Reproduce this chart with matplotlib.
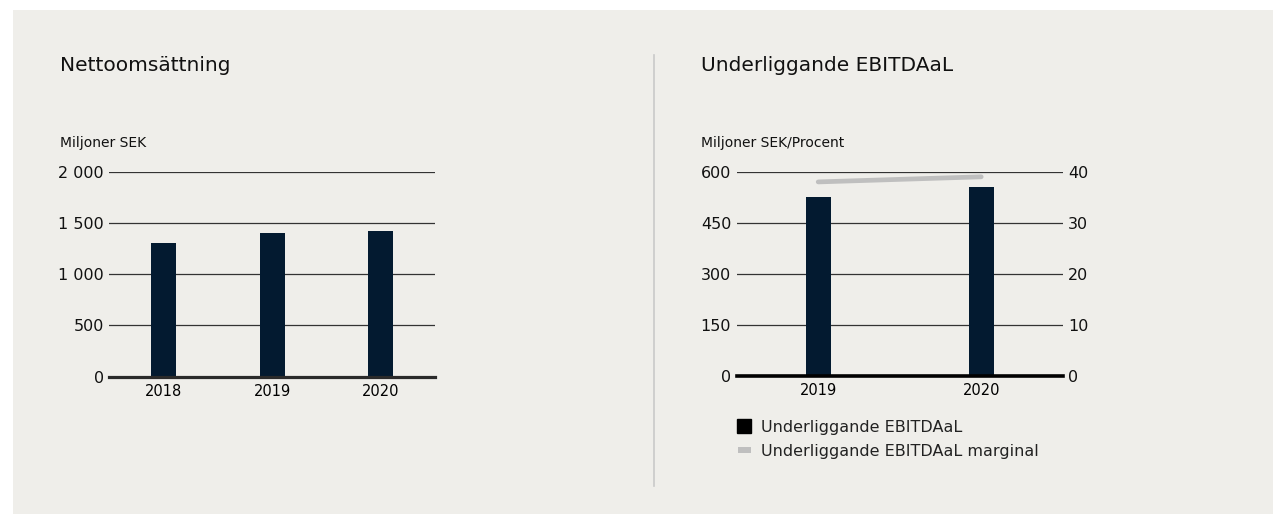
import matplotlib
matplotlib.use("Agg")
import matplotlib.pyplot as plt
from matplotlib.patches import Rectangle
from matplotlib.lines import Line2D

# ---- data ----
years_left = ["2018", "2019", "2020"]
netto = [1301, 1399, 1421]
left_ticks = [0, 500, 1000, 1500, 2000]
left_ticklabels = ["0", "500", "1 000", "1 500", "2 000"]

years_right = ["2019", "2020"]
ebitdaal = [526, 555]
marginal = [38.0, 39.0]
right_ticks = [0, 150, 300, 450, 600]
pct_ticks = [0, 10, 20, 30, 40]

title_left = "Nettoomsättning"
title_right = "Underliggande EBITDAaL"
unit_left = "Miljoner SEK"
unit_right = "Miljoner SEK/Procent"
legend_labels = ["Underliggande EBITDAaL", "Underliggande EBITDAaL marginal"]

# ---- style ----
W, H = 1273, 514
BG = "#efeeea"
BAR = "#031a30"
GRID = "#333333"
LINE = "#bfbfbf"
plt.rcParams["font.family"] = ["DejaVu Sans"]

fig = plt.figure(figsize=(W / 100, H / 100), dpi=100, facecolor="white")
fig.patches.append(Rectangle((13 / W, 0), 1 - 13 / W, 1 - 10 / H, transform=fig.transFigure,
                             facecolor=BG, edgecolor="none", zorder=-10))

def fx(px):
    return px / W

def fy(py):
    return 1 - py / H

def style_axes(ax):
    ax.set_facecolor("none")
    for s in ax.spines.values():
        s.set_visible(False)
    ax.tick_params(axis="both", length=0, labelsize=11.5, colors="#111111")
    ax.set_axisbelow(True)
    ax.yaxis.grid(True, color=GRID, lw=0.9)

# Left chart
axL = fig.add_axes([fx(109.3), fy(376.7), fx(435 - 109.3), 205 / H])
style_axes(axL)
xl = list(range(len(years_left)))
axL.bar(xl, netto, width=0.23, color=BAR, zorder=2)
axL.set_xlim(-0.5, len(years_left) - 0.5)
axL.set_ylim(0, 2000)
axL.set_yticks(left_ticks)
axL.set_yticklabels(left_ticklabels)
axL.set_xticks(xl)
axL.set_xticklabels(years_left, fontsize=10.5, color="black")
axL.tick_params(axis="y", pad=4)
axL.tick_params(axis="x", pad=5)
axL.axhline(0, color="#2a2a2a", lw=2.3, zorder=3, clip_on=False)

# Right chart
axR = fig.add_axes([fx(736.7), fy(376), fx(1062.7 - 736.7), 204.3 / H])
style_axes(axR)
xr = list(range(len(years_right)))
axR.bar(xr, ebitdaal, width=0.153, color=BAR, zorder=2)
axR.set_xlim(-0.5, len(years_right) - 0.5)
axR.set_ylim(0, 600)
axR.set_yticks(right_ticks)
axR.set_xticks(xr)
axR.set_xticklabels(years_right, fontsize=10.5, color="black")
axR.tick_params(axis="y", pad=4)
axR.tick_params(axis="x", pad=5)
axR.axhline(0, color="black", lw=2.6, zorder=3, clip_on=False)

axR2 = axR.twinx()
axR2.set_facecolor("none")
for s in axR2.spines.values():
    s.set_visible(False)
axR2.set_ylim(0, 40)
axR2.set_yticks(pct_ticks)
axR2.tick_params(axis="y", length=0, labelsize=11.5, colors="#111111", pad=4)
axR2.plot(xr, marginal, color=LINE, lw=3.4, solid_capstyle="round", zorder=4)

# Texts
fig.text(fx(60), fy(71), title_left, fontsize=14.5, color="#111111", va="baseline")
fig.text(fx(701), fy(71), title_right, fontsize=14.5, color="#111111", va="baseline")
fig.text(fx(60), fy(147), unit_left, fontsize=10, color="#111111", va="baseline")
fig.text(fx(701), fy(147), unit_right, fontsize=10, color="#111111", va="baseline")

# Separator
fig.add_artist(Line2D([fx(653.5), fx(653.5)], [fy(55), fy(486)], transform=fig.transFigure,
                      color="#c9c9c9", lw=1.2))

# Legend
handles = [
    Line2D([], [], marker="s", markersize=9.4, linestyle="none", color="black"),
    Line2D([], [], color=LINE, lw=4.3, solid_capstyle="butt"),
]
fig.legend(handles, legend_labels, loc="upper left", bbox_to_anchor=(fx(738), fy(420)),
           frameon=False, fontsize=11.5, handlelength=0.8, handletextpad=0.65,
           labelspacing=0.55, borderpad=0, borderaxespad=0, labelcolor="#222222")

fig.savefig("out.png", dpi=100, facecolor="white")
